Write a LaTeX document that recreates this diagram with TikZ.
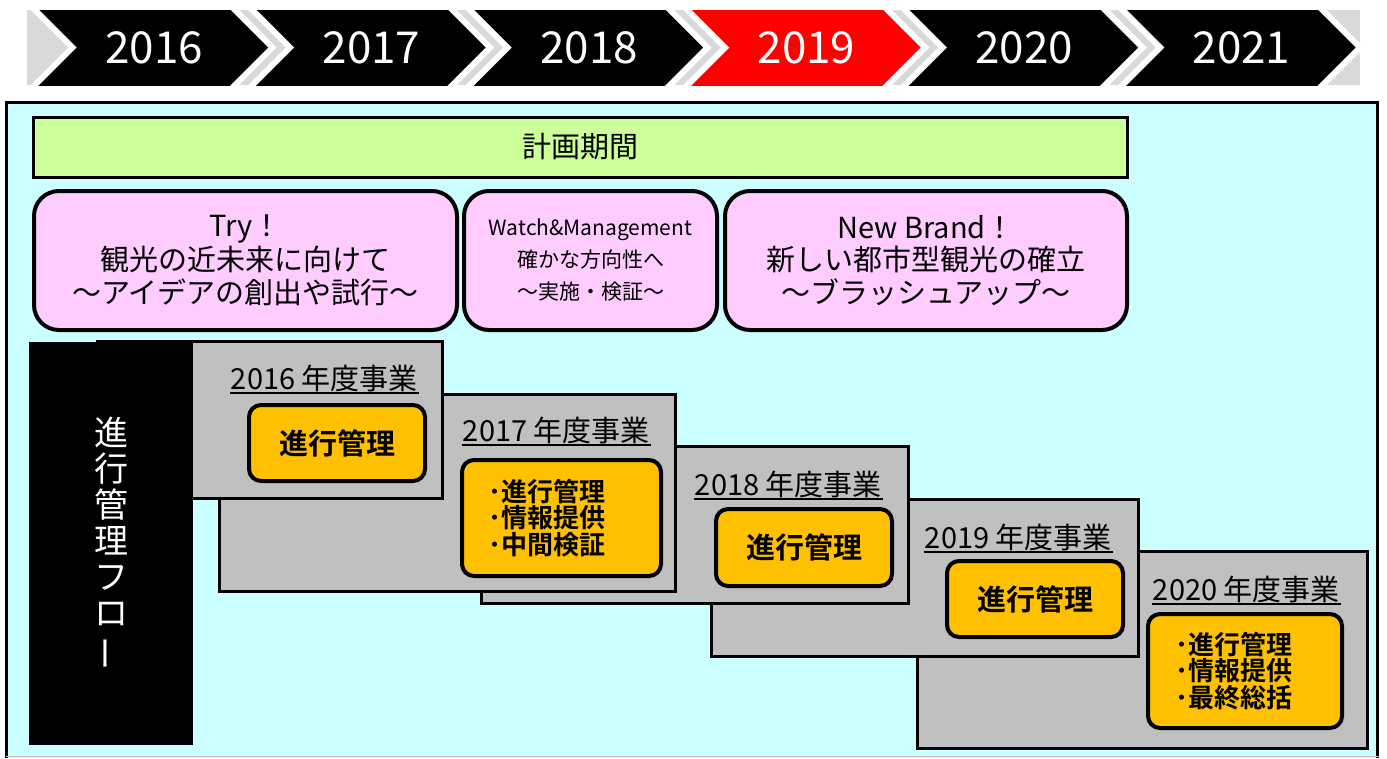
\documentclass[tikz,border=0pt]{standalone}
\usepackage{fontspec}
\setmainfont{Noto Sans CJK JP}[BoldFont={Noto Sans CJK JP Bold}]
\definecolor{panelc}{HTML}{CCFFFF}
\definecolor{stripc}{HTML}{D9D9D9}
\definecolor{planc}{HTML}{CCFF99}
\definecolor{pinkc}{HTML}{FFCCFF}
\definecolor{grayc}{HTML}{C0C0C0}
\definecolor{orangec}{HTML}{FFC000}
\definecolor{redc}{HTML}{FF0000}
\begin{document}
\begin{tikzpicture}[x=1pt,y=-1pt,
  yearlbl/.style={text=white,inner sep=0,font=\fontsize{44}{44}\selectfont},
  phasebox/.style={draw=black,line width=4,fill=pinkc,rounded corners=25,align=center,inner sep=0},
  yearbox/.style={draw=black,line width=3,fill=grayc,anchor=north west,inner sep=0},
  yeartitle/.style={anchor=east,inner sep=1,font=\fontsize{29}{29}\selectfont},
  taskbox/.style={draw=black,line width=4,fill=orangec,rounded corners=12,inner sep=0,font=\bfseries\fontsize{29}{29}\selectfont},
  tasklist/.style={align=left,inner sep=0,font=\bfseries\fontsize{26}{26.5}\selectfont},
  uline/.style={line width=2}
]
\useasboundingbox (0,0) rectangle (1387,758);

% ---- header timeline
\fill[stripc] (27,10) rectangle (1360,85);
\begin{scope}
\clip (27,10) rectangle (1360,85);
\foreach \i/\yr/\c in {0/2016/black,1/2017/black,2/2018/black,3/2019/redc,4/2020/black,5/2021/black}{
  \pgfmathsetmacro\xo{35+217.5*\i}
  \filldraw[fill=\c,draw=white,line width=6,line join=miter]
    (\xo-10,0) -- (\xo+190,0) -- (\xo+237.5,47.5) -- (\xo+190,95) -- (\xo-10,95) -- (\xo+37.5,47.5) -- cycle;
  \node[yearlbl] (y\yr) at (\xo+119,47.5) {\yr};
}
\end{scope}

% ---- main panel
\fill[panelc] (6,102) rectangle (1379,758);
\draw[line width=3] (6.5,758) -- (6.5,102.5) -- (1377.5,102.5) -- (1377.5,758);
\draw[gray!50,line width=1.5] (6,756.5) -- (1379,756.5);

% ---- plan period bar
\node[draw=black,line width=3,fill=planc,minimum width=1094,minimum height=60,inner sep=0,
      font=\fontsize{29}{29}\selectfont] (plan) at (580,147) {計画期間};

% ---- phase boxes
\node[phasebox,minimum width=423,minimum height=139,font=\fontsize{29}{33.5}\selectfont]
  (ph1) at (245.5,260.5) {Try！\\観光の近未来に向けて\\～アイデアの創出や試行～};
\node[phasebox,minimum width=253,minimum height=139,font=\fontsize{21}{32}\selectfont]
  (ph2) at (590.5,260.5) {Watch\&Management\\確かな方向性へ\\～実施・検証～};
\node[phasebox,minimum width=402,minimum height=139,font=\fontsize{29}{32.5}\selectfont]
  (ph3) at (926,260.5) {New Brand！\\新しい都市型観光の確立\\～ブラッシュアップ～};

% ---- yearly project boxes (later years underneath)
\node[yearbox,minimum width=450,minimum height=197] (b20) at (916,550) {};
\node[yeartitle] (t20) at (1341,589) {2020 年度事業};
\draw[uline] (t20.south west) -- (t20.south east);
\node[taskbox,minimum width=194,minimum height=114] (o20) at (1245,671) {};
\node[tasklist] (l20) at ([xshift=-11]o20.center) {･進行管理\\･情報提供\\･最終総括};

\node[yearbox,minimum width=427,minimum height=157] (b19) at (710,498) {};
\node[yeartitle] (t19) at (1113,537) {2019 年度事業};
\draw[uline] (t19.south west) -- (t19.south east);
\node[taskbox,minimum width=176,minimum height=76] (o19) at (1035,599) {進行管理};

\node[yearbox,minimum width=427,minimum height=157] (b18) at (480,445) {};
\node[yeartitle] (t18) at (883,484) {2018 年度事業};
\draw[uline] (t18.south west) -- (t18.south east);
\node[taskbox,minimum width=176,minimum height=77] (o18) at (804,547.5) {進行管理};

\node[yearbox,minimum width=456,minimum height=197] (b17) at (218,393) {};
\node[yeartitle] (t17) at (651,430) {2017 年度事業};
\draw[uline] (t17.south west) -- (t17.south east);
\node[taskbox,minimum width=199,minimum height=116] (o17) at (561.5,518) {};
\node[tasklist] (l17) at ([xshift=-15]o17.center) {･進行管理\\･情報提供\\･中間検証};

\node[yearbox,minimum width=345,minimum height=157] (b16) at (96,340) {};
\node[yeartitle] (t16) at (419,378) {2016 年度事業};
\draw[uline] (t16.south west) -- (t16.south east);
\node[taskbox,minimum width=176,minimum height=76] (o16) at (337,443) {進行管理};

% ---- flow label bar
\node[fill=black,minimum width=164,minimum height=403,inner sep=0,anchor=north west,
      text=white,align=center,font=\fontsize{34}{36}\selectfont] (flow) at (29,342)
  {進\\行\\管\\理\\フ\\ロ\\\rotatebox[origin=c]{90}{ー}};
\end{tikzpicture}
\end{document}
